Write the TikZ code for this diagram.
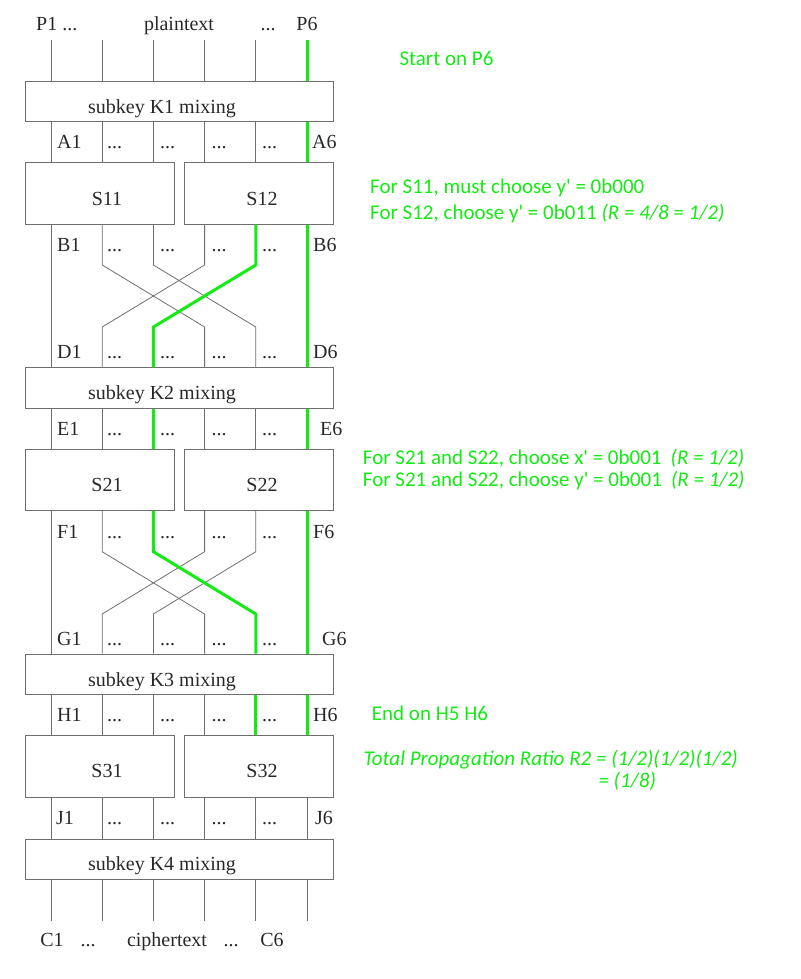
\documentclass[tikz,border=0pt]{standalone}
\usepackage{fontspec}
\setmainfont{Liberation Serif}
\newfontfamily\calfont{Carlito}
\definecolor{hl}{RGB}{20,235,20}
\definecolor{wirec}{RGB}{110,110,110}
\definecolor{txtc}{RGB}{40,40,40}
\begin{document}
\begin{tikzpicture}[x=1pt,y=-1pt,
  wire/.style={draw=wirec,line width=0.8pt},
  gpath/.style={draw=hl,line width=3pt},
  kbox/.style={draw=wirec,line width=0.8pt,minimum width=307.6pt,minimum height=40.5pt,inner sep=0pt},
  sbox/.style={draw=wirec,line width=0.8pt,minimum width=148.8pt,minimum height=61.5pt,inner sep=0pt},
  lab/.style={anchor=base west,inner sep=0pt,font=\fontsize{20}{24}\selectfont,text=txtc},
  ctr/.style={anchor=base,inner sep=0pt,font=\fontsize{20}{24}\selectfont,text=txtc},
  note/.style={anchor=base west,inner sep=0pt,font=\calfont\fontsize{21}{25}\selectfont,text=hl}]
\useasboundingbox (0,0) rectangle (800,979);
% boxes
\node[kbox] (K1) at (179.5,101.2) {};
\node[sbox] (S11) at (100,193.5) {};
\node[sbox] (S12) at (258.8,193.5) {};
\node[kbox] (K2) at (179.5,388) {};
\node[sbox] (S21) at (100,480) {};
\node[sbox] (S22) at (258.8,480) {};
\node[kbox] (K3) at (179.5,674.2) {};
\node[sbox] (S31) at (100,766.6) {};
\node[sbox] (S32) at (258.8,766.6) {};
\node[kbox] (K4) at (179.5,859.2) {};
% box texts
\node[ctr] (tK1) at (162,113.3) {subkey K1 mixing};
\node[ctr] (tS11) at (107,205) {S11};
\node[ctr] (tS12) at (262,205) {S12};
\node[ctr] (tK2) at (162,399.5) {subkey K2 mixing};
\node[ctr] (tS21) at (107,491.5) {S21};
\node[ctr] (tS22) at (262,491.5) {S22};
\node[ctr] (tK3) at (162,686) {subkey K3 mixing};
\node[ctr] (tS31) at (107,777.5) {S31};
\node[ctr] (tS32) at (262,777.5) {S32};
\node[ctr] (tK4) at (162,870.7) {subkey K4 mixing};
% coordinates
\coordinate (top) at (0,40);
\coordinate (bot) at (0,921);
\coordinate (c1a) at (0,265);
\coordinate (c1b) at (0,327);
\coordinate (c2a) at (0,551.7);
\coordinate (c2b) at (0,614);
\foreach \i in {1,...,6} \coordinate (w\i) at ({51+51.2*(\i-1)},0);
% gray wires
\foreach \i in {1,...,6} {
  \draw[wire] (w\i |- top) -- (w\i |- K1.north);
  \draw[wire] (w\i |- K1.south) -- (w\i |- S11.north);
  \draw[wire] (w\i |- K2.south) -- (w\i |- S21.north);
  \draw[wire] (w\i |- K3.south) -- (w\i |- S31.north);
  \draw[wire] (w\i |- S31.south) -- (w\i |- K4.north);
  \draw[wire] (w\i |- K4.south) -- (w\i |- bot);
}
\draw[wire] (w1 |- S11.south) -- (w1 |- K2.north);
\draw[wire] (w6 |- S12.south) -- (w6 |- K2.north);
\draw[wire] (w1 |- S21.south) -- (w1 |- K3.north);
\draw[wire] (w6 |- S22.south) -- (w6 |- K3.north);
\foreach \a/\b in {2/4,3/5,4/2,5/3} {
  \draw[wire] (w\a |- S11.south) -- (w\a |- c1a) -- (w\b |- c1b) -- (w\b |- K2.north);
  \draw[wire] (w\a |- S21.south) -- (w\a |- c2a) -- (w\b |- c2b) -- (w\b |- K3.north);
}
% green path
\draw[gpath] (w6 |- top) -- (w6 |- K1.north);
\draw[gpath] (w6 |- K1.south) -- (w6 |- S12.north);
\draw[gpath] (w6 |- S12.south) -- (w6 |- K2.north);
\draw[gpath] (w5 |- S12.south) -- (w5 |- c1a) -- (w3 |- c1b) -- (w3 |- K2.north);
\draw[gpath] (w3 |- K2.south) -- (w3 |- S21.north);
\draw[gpath] (w6 |- K2.south) -- (w6 |- S22.north);
\draw[gpath] (w3 |- S21.south) -- (w3 |- c2a) -- (w5 |- c2b) -- (w5 |- K3.north);
\draw[gpath] (w6 |- S22.south) -- (w6 |- K3.north);
\draw[gpath] (w5 |- K3.south) -- (w5 |- S32.north);
\draw[gpath] (w6 |- K3.south) -- (w6 |- S32.north);
% top and bottom labels
\node[lab] (p1) at (36,30.7) {P1 ...};
\node[ctr] (pt) at (179,30.7) {plaintext};
\node[ctr] (pd) at (268,30.7) {...};
\node[ctr] (p6) at (307,30.7) {P6};
\node[ctr] (c1) at (52,946.7) {C1};
\node[ctr] (cd1) at (88,946.7) {...};
\node[ctr] (ct) at (167,946.7) {ciphertext};
\node[ctr] (cd2) at (231,946.7) {...};
\node[ctr] (c6) at (272,946.7) {C6};
% row labels
\foreach \r/\y/\xl/\xr in {A/148.3/57/312, B/251/57/313, D/358.3/57/313, E/435/57/320, F/538.3/57/313, G/645/57/322, H/721.7/57/313, J/824/56/315} {
  \node[lab] (\r1) at (\xl,\y) {\r1};
  \node[lab] (\r2) at (107,\y) {...};
  \node[lab] (\r3) at (160,\y) {...};
  \node[lab] (\r4) at (211.5,\y) {...};
  \node[lab] (\r5) at (262,\y) {...};
  \node[lab] (\r6) at (\xr,\y) {\r6};
}
% notes
\node[note] (n1) at (399.3,66) {Start on P6};
\node[note] (n2) at (370,193.3) {For S11, must choose y' = 0b000};
\node[note] (n3) at (370,219.3) {For S12, choose y' = 0b011 \textit{(R = 4/8 = 1/2)}};
\node[note] (n4) at (362.7,464.3) {For S21 and S22, choose x' = 0b001\hspace{9pt}\textit{(R = 1/2)}};
\node[note] (n5) at (362.7,486.7) {For S21 and S22, choose y' = 0b001\hspace{9pt}\textit{(R = 1/2)}};
\node[note] (n6) at (371.7,720) {End on H5 H6};
\node[note] (n7) at (363.3,765.7) {\textit{Total Propagation Ratio R2 = (1/2)(1/2)(1/2)}};
\node[note] (n8) at (598.3,787.7) {\textit{= (1/8)}};
\end{tikzpicture}
\end{document}
